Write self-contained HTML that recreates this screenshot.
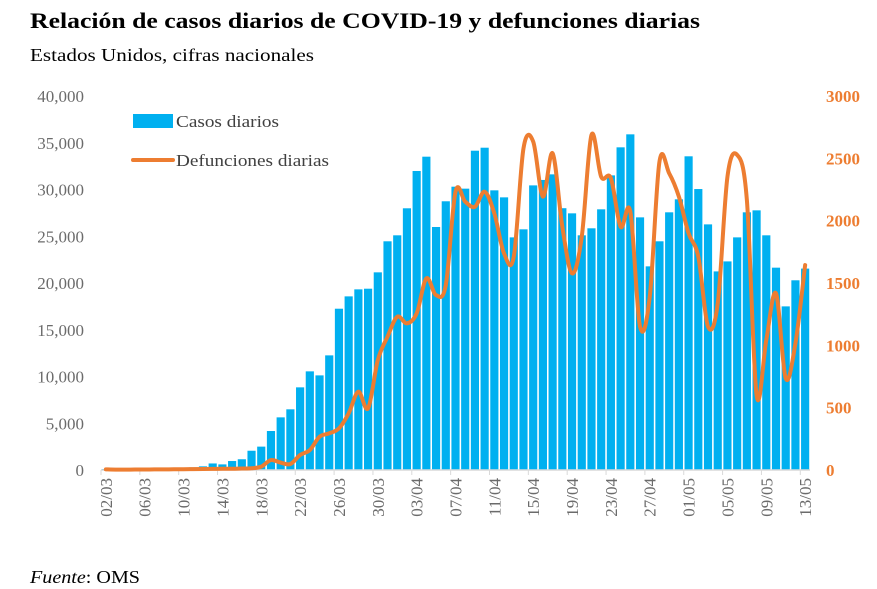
<!DOCTYPE html>
<html><head><meta charset="utf-8"><style>
body{margin:0;background:#fff;}
svg{display:block;font-family:"Liberation Serif",serif;}
</style></head><body>
<svg id="chart" width="877" height="589">
<text x="30" y="28" font-size="22" font-weight="bold" fill="#000" textLength="670" lengthAdjust="spacingAndGlyphs">Relación de casos diarios de COVID-19 y defunciones diarias</text>
<text x="30" y="61" font-size="18" fill="#000" textLength="284" lengthAdjust="spacingAndGlyphs">Estados Unidos, cifras nacionales</text>
<text x="30" y="583" font-size="18" fill="#000" textLength="110" lengthAdjust="spacingAndGlyphs"><tspan font-style="italic">Fuente</tspan>: OMS</text>
<g id="plot"></g>
<g>
<rect x="133" y="114" width="40" height="14" fill="#00b0f0"/>
<text x="176" y="127" font-size="17" fill="#404040" textLength="103" lengthAdjust="spacingAndGlyphs">Casos diarios</text>
<line x1="133" y1="160" x2="173" y2="160" stroke="#ed7d31" stroke-width="4" stroke-linecap="round"/>
<text x="176" y="166" font-size="17" fill="#404040" textLength="153" lengthAdjust="spacingAndGlyphs">Defunciones diarias</text>
</g>
</svg>
<script>
const cases=[100,50,50,100,100,100,150,200,200,280,390,700,600,960,1150,2060,2500,4170,5630,6490,8840,10550,10120,12260,17250,18570,19320,19390,21140,24460,25100,27990,31980,33510,25990,28740,30300,30090,34150,34470,29910,29160,24880,25740,30440,31020,31620,28000,27450,25100,25850,27880,31510,34510,35900,27020,21780,24460,27560,28950,33550,30050,26270,21240,22310,24880,27560,27770,25100,21640,17500,20290,21540];
const deaths=[5,3,3,4,4,5,5,6,6,7,8,9,10,10,12,14,27,80,59,48,120,160,267,294,334,455,628,495,882,1069,1229,1176,1256,1537,1403,1483,2232,2152,2111,2232,2058,1737,1711,2580,2634,2193,2540,1951,1577,1871,2687,2352,2340,1951,2072,1150,1390,2473,2380,2193,1898,1711,1150,1337,2352,2527,2166,600,1043,1417,735,1016,1644];
const leftTicks=[0,5000,10000,15000,20000,25000,30000,35000,40000];
const rightTicks=[0,500,1000,1500,2000,2500,3000];
const startDay=2,startMonth=3;
const X0=101,X1=810,Y0=470,Y1=96;
const n=cases.length,pitch=(X1-X0)/n;
const ns="http://www.w3.org/2000/svg";
const g=document.getElementById('plot');
function xC(i){return X0+(i+0.5)*pitch;}
function yL(v){return Y0-(v/40000)*(Y0-Y1);}
function yR(v){return Y0-(v/3000)*(Y0-Y1);}
function mk(t,a){const e=document.createElementNS(ns,t);for(const k in a)e.setAttribute(k,a[k]);g.appendChild(e);return e;}
cases.forEach((v,i)=>{const r=mk('rect',{x:xC(i)-pitch*0.42,y:yL(v),width:pitch*0.84,height:Y0-yL(v),fill:'#00b0f0'});

});
const ax=mk('line',{x1:X0,y1:Y0,x2:X0+n*pitch,y2:Y0,stroke:'#d9d9d9','stroke-width':1.5});


leftTicks.forEach(v=>{const t=mk('text',{x:84,y:yL(v)+6,'text-anchor':'end','font-size':17,fill:'#6b6b6b'});t.textContent=v.toLocaleString('en-US');

});
rightTicks.forEach(v=>{const t=mk('text',{x:826,y:yR(v)+6,'font-size':17,fill:'#ed7d31','font-weight':'bold'});t.textContent=String(v);

});
const dim=[31,28,31,30,31,30];
for(let i=0;i<=n;i+=4){
 const tk=mk('line',{x1:X0+i*pitch,y1:Y0,x2:X0+i*pitch,y2:Y0+5,stroke:'#d9d9d9'});
 
 
 if(i>=n)break;
 let d=startDay+i,m=startMonth;while(d>dim[m-1]){d-=dim[m-1];m++;}
 const lbl=String(d).padStart(2,'0')+'/'+String(m).padStart(2,'0');
 const x=xC(i)+6,y=478;
 const t=mk('text',{x:x,y:y,transform:`rotate(-90 ${x} ${y})`,'text-anchor':'end','font-size':17,fill:'#6b6b6b'});t.textContent=lbl;
 
 
}
const pts=deaths.map((v,i)=>[xC(i),yR(v)]);
let d='M'+pts[0][0]+','+pts[0][1];
for(let i=0;i<pts.length-1;i++){const p0=pts[Math.max(0,i-1)],p1=pts[i],p2=pts[i+1],p3=pts[Math.min(pts.length-1,i+2)];
 const c1=[p1[0]+(p2[0]-p0[0])/6,p1[1]+(p2[1]-p0[1])/6],c2=[p2[0]-(p3[0]-p1[0])/6,p2[1]-(p3[1]-p1[1])/6];
 d+=` C${c1[0]},${c1[1]} ${c2[0]},${c2[1]} ${p2[0]},${p2[1]}`;}
const ln=mk('path',{d:d,fill:'none',stroke:'#ed7d31','stroke-width':4,'stroke-linejoin':'round','stroke-linecap':'round'});


</script>
</body></html>
